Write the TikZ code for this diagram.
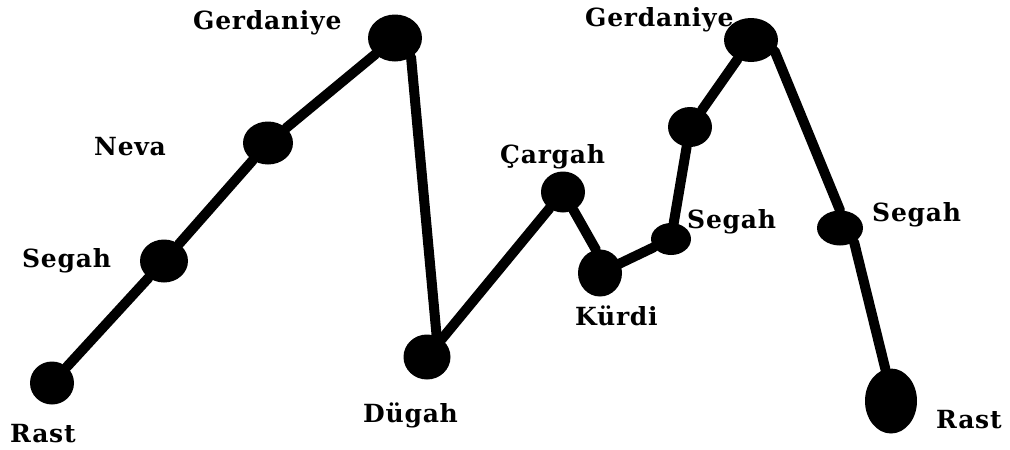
\documentclass[tikz,border=0pt]{standalone}
\usepackage{fontspec}
\setmainfont{DejaVu Serif}
\usetikzlibrary{shapes.geometric}
\begin{document}
\begin{tikzpicture}[x=1pt,y=-1pt,
  blob/.style 2 args={ellipse,fill=black,draw=none,inner sep=0pt,minimum width=#1,minimum height=#2},
  conn/.style={line width=10pt,line cap=round,draw=black},
  lab/.style={anchor=base west,inner sep=0pt,font=\bfseries\fontsize{25}{25}\selectfont\addfontfeatures{LetterSpace=3}}]
\useasboundingbox[fill=white] (0,0) rectangle (1010,450);
% dots
\node[blob={44pt}{43pt}] (r1) at (52,383) {};
\node[blob={48pt}{43pt}] (s1) at (164,261) {};
\node[blob={50pt}{43pt}] (nv) at (268,143) {};
\node[blob={54pt}{47pt}] (g1) at (395,38) {};
\node[blob={47pt}{45pt}] (dg) at (427,357) {};
\node[blob={44pt}{41pt}] (cg) at (563,192) {};
\node[blob={44pt}{47pt}] (kd) at (600,273) {};
\node[blob={40pt}{32pt}] (s2) at (671,239) {};
\node[blob={44pt}{40pt}] (up) at (690,127) {};
\node[blob={54pt}{44pt}] (g2) at (751,40) {};
\node[blob={46pt}{35pt}] (s3) at (840,228) {};
\node[blob={52pt}{65pt}] (r2) at (891,401) {};
% connectors
\draw[conn] (r1) -- (s1);
\draw[conn] (s1) -- (nv);
\draw[conn] (nv) -- (g1);
\draw[conn] (g1.-50) -- (dg.65);
\draw[conn] (dg) -- (cg);
\draw[conn] (cg.-60) -- (kd.100);
\draw[conn] (kd) -- (s2);
\draw[conn] (s2) -- (up);
\draw[conn] (up) -- (g2);
\draw[conn] (g2.-25) -- (s3.north);
\draw[conn] (s3.-45) -- (r2.100);
% labels
\node[lab] (t1) at (193,29) {Gerdaniye};
\node[lab] (t2) at (94,155) {Neva};
\node[lab] (t3) at (22,267) {Segah};
\node[lab] (t4) at (10,442) {Rast};
\node[lab] (t5) at (363,422) {Dügah};
\node[lab] (t6) at (500,163) {Çargah};
\node[lab] (t7) at (575,325) {Kürdi};
\node[lab] (t8) at (687,228) {Segah};
\node[lab] (t9) at (585,26) {Gerdaniye};
\node[lab] (t10) at (872,221) {Segah};
\node[lab] (t11) at (936,428) {Rast};
\end{tikzpicture}
\end{document}
